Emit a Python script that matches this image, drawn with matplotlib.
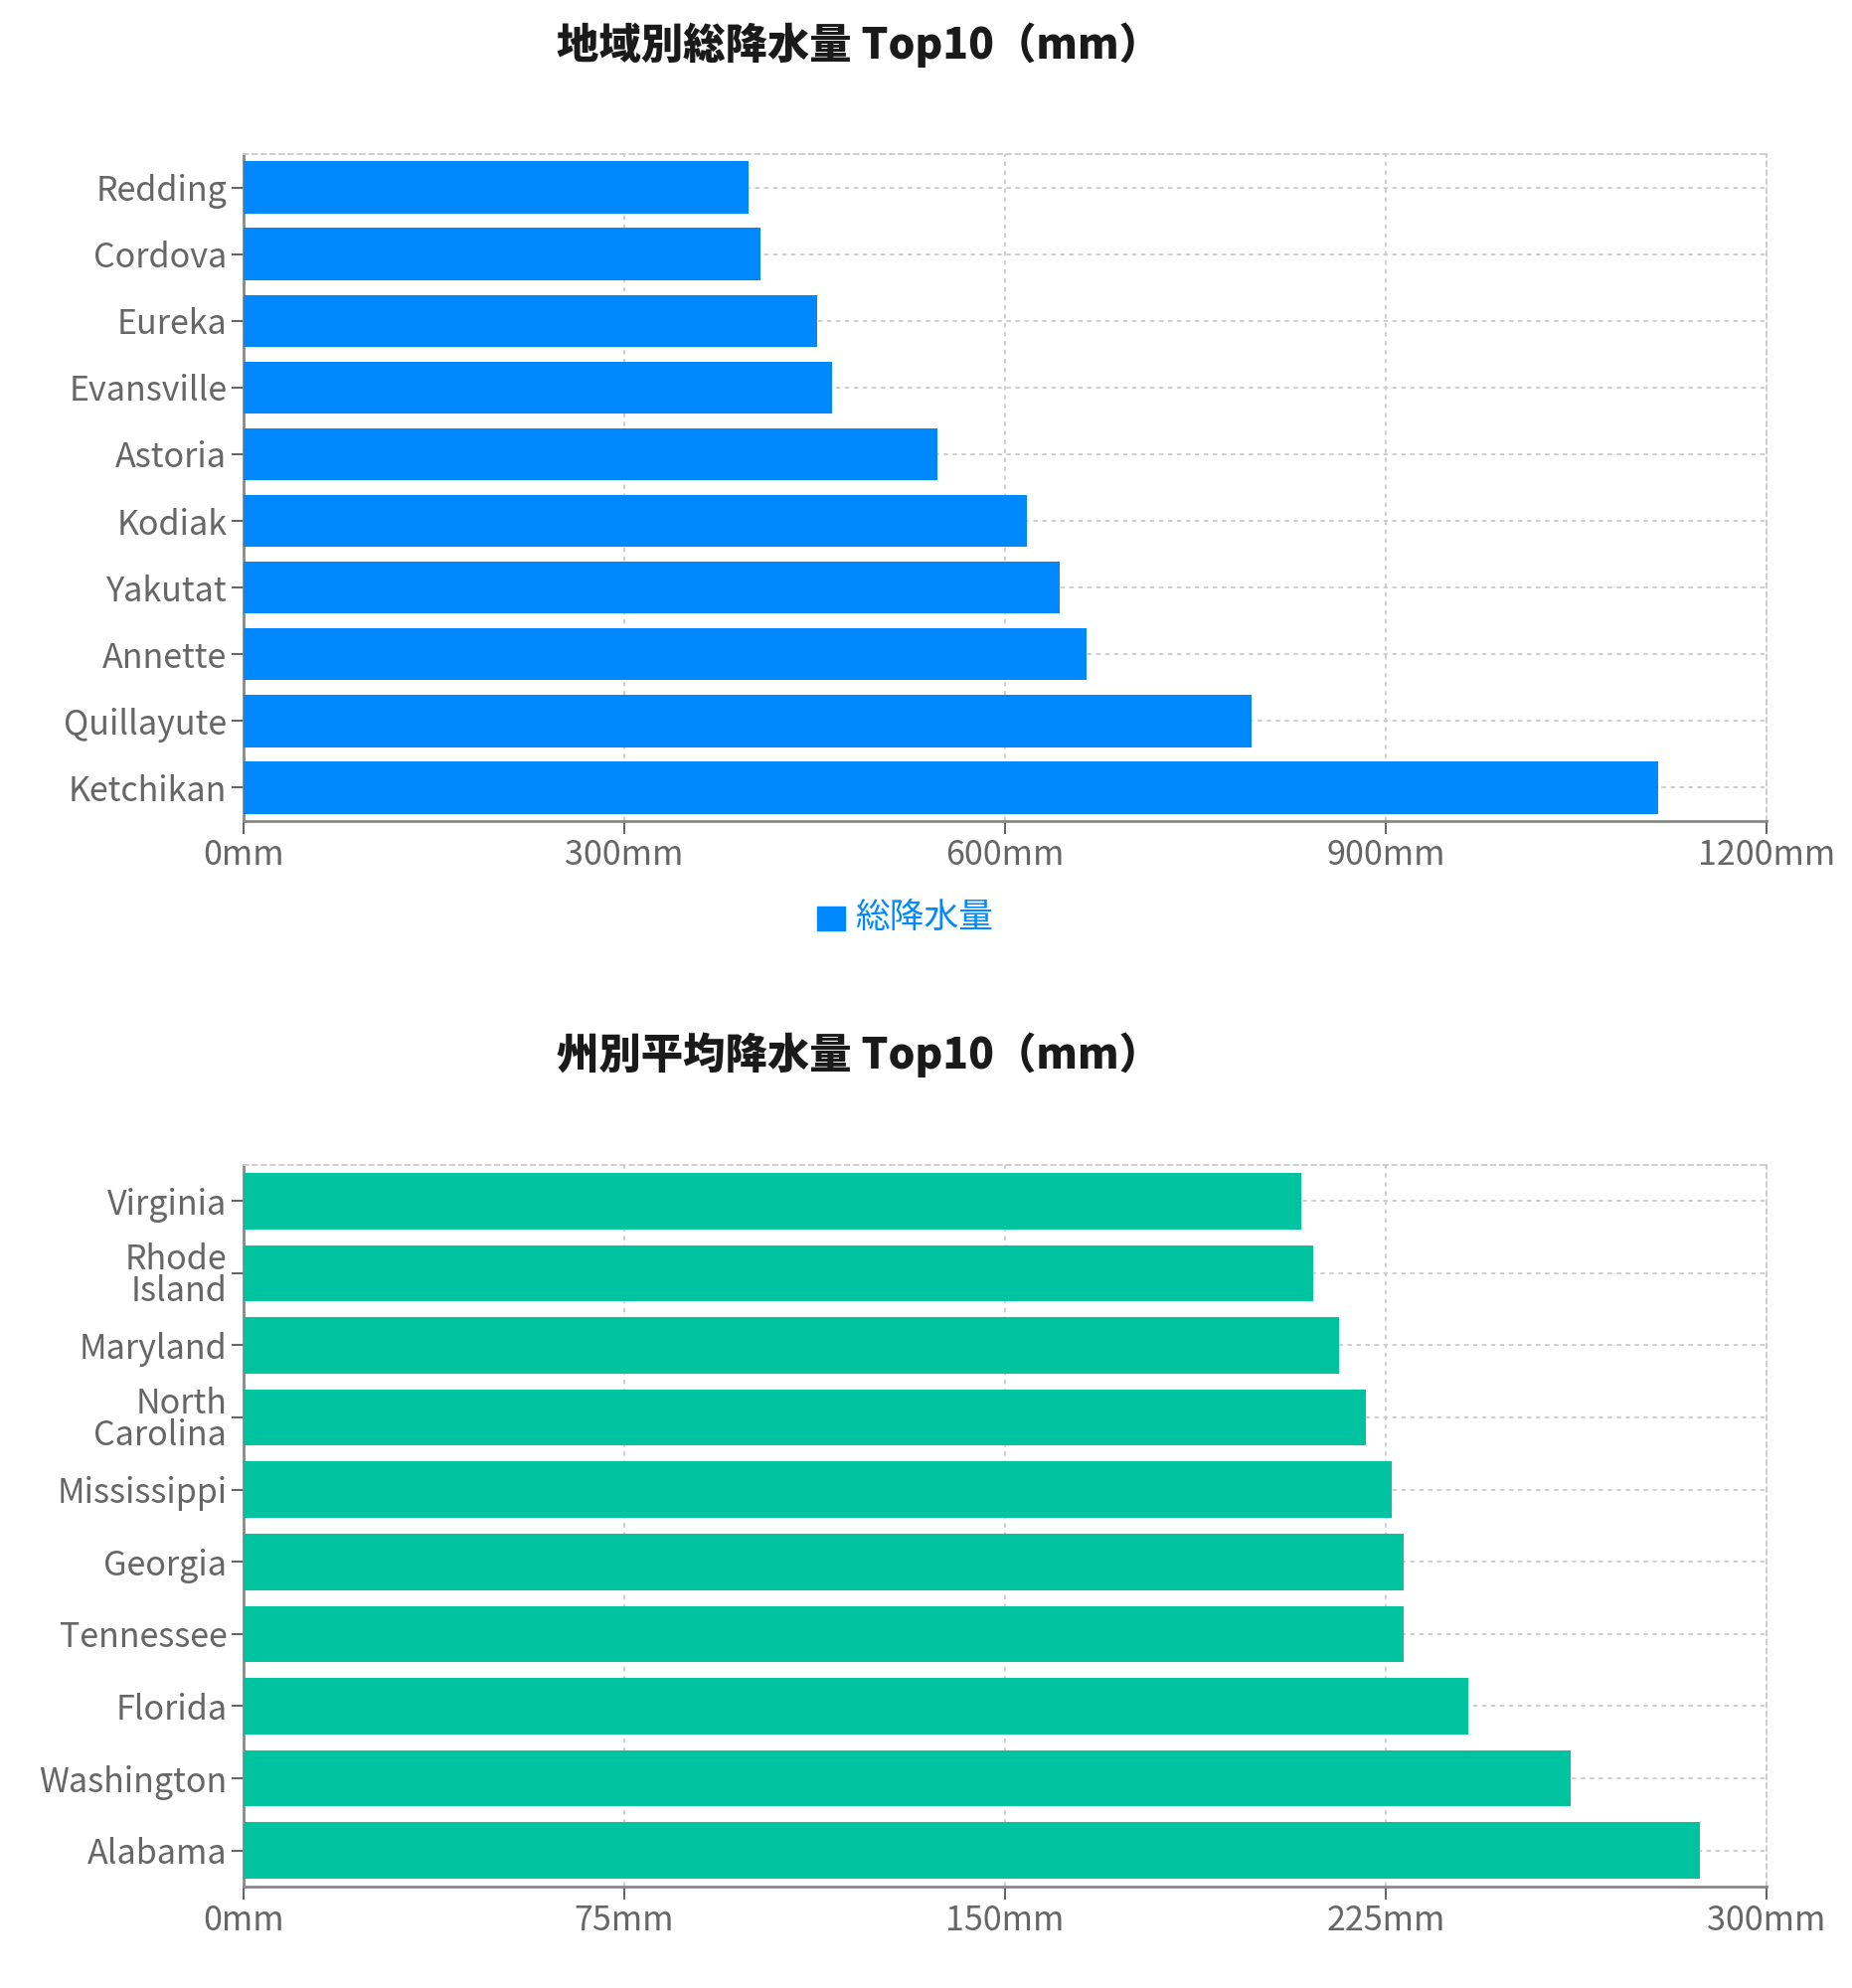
import matplotlib
matplotlib.use("Agg")
import matplotlib.pyplot as plt
from matplotlib.patches import Rectangle

plt.rcParams['font.family'] = ['Noto Sans CJK JP', 'DejaVu Sans']

# データ
cities = ["Redding", "Cordova", "Eureka", "Evansville", "Astoria",
          "Kodiak", "Yakutat", "Annette", "Quillayute", "Ketchikan"]
city_total = [398, 407, 452, 464, 547, 617, 643, 664, 794, 1115]
city_ticks = [0, 300, 600, 900, 1200]

states = ["Virginia", "Rhode\nIsland", "Maryland", "North\nCarolina", "Mississippi",
          "Georgia", "Tennessee", "Florida", "Washington", "Alabama"]
state_avg = [208.3, 210.8, 215.8, 221.0, 226.1, 228.6, 228.6, 241.3, 261.5, 286.9]
state_ticks = [0, 75, 150, 225, 300]

blue = "#0088FE"
green = "#00C49F"
grid_c = "#cccccc"
axis_c = "#666666"

W, H = 1863, 2000
fig = plt.figure(figsize=(W / 100, H / 100), dpi=100)


def draw(ax, labels, values, ticks, color):
    y = list(range(len(labels)))
    ax.barh(y, values, height=0.78, color=color, zorder=3)
    ax.set_ylim(len(labels) - 0.5, -0.5)
    ax.set_xlim(ticks[0], ticks[-1])
    ax.set_yticks(y)
    ax.set_yticklabels(labels, fontsize=24.5, color=axis_c, linespacing=0.9)
    ax.set_xticks(ticks)
    ax.set_xticklabels([f"{t}mm" for t in ticks], fontsize=24.5, color=axis_c)
    ax.tick_params(axis="both", length=9, width=1.5, color=axis_c, pad=3)
    ax.grid(True, color=grid_c, linestyle=(0, (2.5, 2.5)), linewidth=1.3, zorder=0)
    for s in ["top", "right"]:
        ax.spines[s].set_color(grid_c)
        ax.spines[s].set_linestyle((0, (2.5, 2.5)))
        ax.spines[s].set_linewidth(1.3)
    for s in ["left", "bottom"]:
        ax.spines[s].set_color("#888888")
        ax.spines[s].set_linewidth(2)


ax1 = fig.add_axes([245 / W, 1 - 826 / H, (1777 - 245) / W, (826 - 155) / H])
draw(ax1, cities, city_total, city_ticks, blue)

ax2 = fig.add_axes([245 / W, 1 - 1898 / H, (1777 - 245) / W, (1898 - 1172) / H])
draw(ax2, states, state_avg, state_ticks, green)

fig.text(0.464, 1 - 45 / H, "地域別総降水量 Top10（mm）", fontsize=30.5,
         fontweight="black", ha="center", va="center", color="#1a1a1a")
fig.text(0.464, 1 - 1061 / H, "州別平均降水量 Top10（mm）", fontsize=30.5,
         fontweight="black", ha="center", va="center", color="#1a1a1a")

# 凡例
fig.patches.append(Rectangle((822 / W, 1 - 936 / H), 28 / W, 24 / H,
                             transform=fig.transFigure, color=blue))
fig.text(860 / W, 1 - 923 / H, "総降水量", fontsize=25, color=blue,
         ha="left", va="center")

fig.savefig("out.png", dpi=100, facecolor="white")
